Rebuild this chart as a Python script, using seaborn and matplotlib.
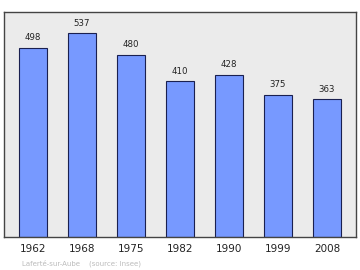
import matplotlib
matplotlib.use("Agg")
import matplotlib.pyplot as plt
import seaborn as sns
import pandas as pd

years = ["1962", "1968", "1975", "1982", "1990", "1999", "2008"]
population = [498, 537, 480, 410, 428, 375, 363]
footer = "Laferté-sur-Aube    (source: Insee)"

df = pd.DataFrame({"year": years, "pop": population})

sns.set_style("white")
plt.rcParams["font.family"] = ["DejaVu Sans"]

fig = plt.figure(figsize=(3.6, 2.7), dpi=100)
ax = fig.add_axes([4/360, 33/270, 352/360, 225/270])
ax.set_facecolor("#ebebeb")

sns.barplot(data=df, x="year", y="pop", ax=ax, color="#7799ff",
            saturation=1, width=0.57, edgecolor="#1a2050", linewidth=0.8)

ax.set_ylim(0, 593)
ax.set_xlim(-0.59, 6.59)
ax.set_yticks([])
ax.set_xlabel("")
ax.set_ylabel("")
ax.tick_params(axis="x", length=0, labelsize=7.5, pad=5, colors="#222222")
for s in ax.spines.values():
    s.set_color("#444444")
    s.set_linewidth(1.0)

for i, v in enumerate(population):
    ax.text(i, v + 15, str(v), ha="center", va="bottom", fontsize=6.2, color="#222222")

fig.text(22/360, 1 - 263/270, footer, ha="left", va="center", fontsize=5, color="#bbbbbb")

fig.savefig("out.png", dpi=100)
